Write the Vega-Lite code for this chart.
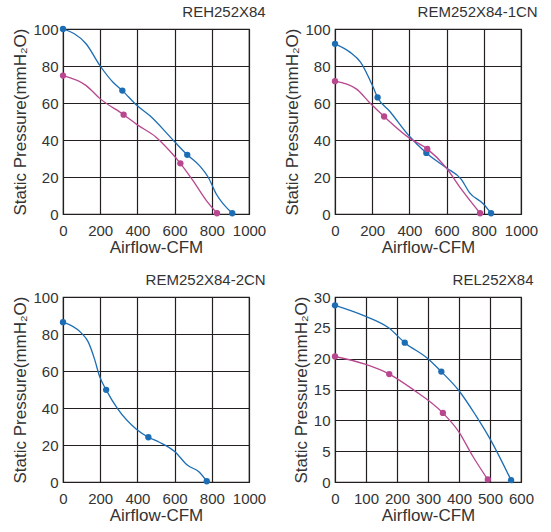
{
  "$schema": "https://vega.github.io/schema/vega-lite/v6.json",
  "padding": {"left": 11, "top": 4, "right": 2, "bottom": 0},
  "columns": 2,
  "spacing": {"row": 16, "column": 16},
  "config": {
    "font": "Liberation Sans",
    "view": {"stroke": "#231f20", "strokeWidth": 1.2},
    "axis": {
      "grid": true, "gridColor": "#231f20", "gridOpacity": 1, "gridWidth": 1.2,
      "domain": false, "ticks": false, "labelOverlap": false, "labelFlush": false, "format": "d",
      "labelFont": "Liberation Sans", "labelFontSize": 15, "labelColor": "#333333",
      "titleFont": "Liberation Sans", "titleFontSize": 17, "titleFontWeight": "normal", "titleColor": "#333333"
    },
    "axisX": {"labelPadding": 9, "titlePadding": 1},
    "axisY": {"labelPadding": 5, "titlePadding": 3},
    "title": {"anchor": "end", "fontSize": 15, "fontWeight": "normal", "color": "#333333", "font": "Liberation Sans", "offset": 2}
  },
  "datasets": {
    "p1": [
      {"flow": 0, "pressure": 100, "series": "a", "dot": true},
      {"flow": 125, "pressure": 91.9, "series": "a", "dot": false},
      {"flow": 200, "pressure": 80, "series": "a", "dot": false},
      {"flow": 269, "pressure": 71.2, "series": "a", "dot": false},
      {"flow": 319, "pressure": 66.7, "series": "a", "dot": true},
      {"flow": 398, "pressure": 58.6, "series": "a", "dot": false},
      {"flow": 466, "pressure": 53.2, "series": "a", "dot": false},
      {"flow": 595, "pressure": 39.6, "series": "a", "dot": false},
      {"flow": 668, "pressure": 32, "series": "a", "dot": true},
      {"flow": 735, "pressure": 26, "series": "a", "dot": false},
      {"flow": 780, "pressure": 20, "series": "a", "dot": false},
      {"flow": 824, "pressure": 10.8, "series": "a", "dot": false},
      {"flow": 910, "pressure": 0.4, "series": "a", "dot": true},
      {"flow": 0, "pressure": 74.8, "series": "b", "dot": true},
      {"flow": 125, "pressure": 69.4, "series": "b", "dot": false},
      {"flow": 197, "pressure": 62.5, "series": "b", "dot": false},
      {"flow": 326, "pressure": 53.7, "series": "b", "dot": true},
      {"flow": 398, "pressure": 48.3, "series": "b", "dot": false},
      {"flow": 502, "pressure": 41.4, "series": "b", "dot": false},
      {"flow": 573, "pressure": 34.2, "series": "b", "dot": false},
      {"flow": 631, "pressure": 27.4, "series": "b", "dot": true},
      {"flow": 699, "pressure": 18, "series": "b", "dot": false},
      {"flow": 771, "pressure": 7.2, "series": "b", "dot": false},
      {"flow": 828, "pressure": 0.4, "series": "b", "dot": true}
    ],
    "p2": [
      {"flow": 0, "pressure": 92, "series": "a", "dot": true},
      {"flow": 80, "pressure": 87.5, "series": "a", "dot": false},
      {"flow": 138, "pressure": 82, "series": "a", "dot": false},
      {"flow": 205, "pressure": 68.6, "series": "a", "dot": false},
      {"flow": 229, "pressure": 63, "series": "a", "dot": true},
      {"flow": 295, "pressure": 55.4, "series": "a", "dot": false},
      {"flow": 400, "pressure": 42, "series": "a", "dot": false},
      {"flow": 491, "pressure": 33, "series": "a", "dot": true},
      {"flow": 598, "pressure": 25, "series": "a", "dot": false},
      {"flow": 679, "pressure": 18.7, "series": "a", "dot": false},
      {"flow": 723, "pressure": 11.6, "series": "a", "dot": false},
      {"flow": 798, "pressure": 5.4, "series": "a", "dot": false},
      {"flow": 839, "pressure": 0.4, "series": "a", "dot": true},
      {"flow": 0, "pressure": 71.8, "series": "b", "dot": true},
      {"flow": 116, "pressure": 67.5, "series": "b", "dot": false},
      {"flow": 188, "pressure": 60, "series": "b", "dot": false},
      {"flow": 264, "pressure": 52.7, "series": "b", "dot": true},
      {"flow": 400, "pressure": 41, "series": "b", "dot": false},
      {"flow": 496, "pressure": 35.2, "series": "b", "dot": true},
      {"flow": 598, "pressure": 25, "series": "b", "dot": false},
      {"flow": 679, "pressure": 13.4, "series": "b", "dot": false},
      {"flow": 780, "pressure": 0.4, "series": "b", "dot": true}
    ],
    "p3": [
      {"flow": 0, "pressure": 86.4, "series": "a", "dot": true},
      {"flow": 98, "pressure": 80.6, "series": "a", "dot": false},
      {"flow": 134, "pressure": 76, "series": "a", "dot": false},
      {"flow": 170, "pressure": 66.3, "series": "a", "dot": false},
      {"flow": 196, "pressure": 57.3, "series": "a", "dot": false},
      {"flow": 232, "pressure": 49.8, "series": "a", "dot": true},
      {"flow": 295, "pressure": 39.4, "series": "a", "dot": false},
      {"flow": 393, "pressure": 28.7, "series": "a", "dot": false},
      {"flow": 459, "pressure": 24.2, "series": "a", "dot": true},
      {"flow": 518, "pressure": 21.5, "series": "a", "dot": false},
      {"flow": 600, "pressure": 16.5, "series": "a", "dot": false},
      {"flow": 670, "pressure": 9, "series": "a", "dot": false},
      {"flow": 732, "pressure": 5.4, "series": "a", "dot": false},
      {"flow": 773, "pressure": 0.4, "series": "a", "dot": true}
    ],
    "p4": [
      {"flow": 0, "pressure": 28.65, "series": "a", "dot": true},
      {"flow": 97, "pressure": 26.9, "series": "a", "dot": false},
      {"flow": 173, "pressure": 25, "series": "a", "dot": false},
      {"flow": 225, "pressure": 22.6, "series": "a", "dot": true},
      {"flow": 300, "pressure": 20, "series": "a", "dot": false},
      {"flow": 343, "pressure": 17.9, "series": "a", "dot": true},
      {"flow": 400, "pressure": 14.8, "series": "a", "dot": false},
      {"flow": 454, "pressure": 10.8, "series": "a", "dot": false},
      {"flow": 500, "pressure": 7, "series": "a", "dot": false},
      {"flow": 568, "pressure": 0.3, "series": "a", "dot": true},
      {"flow": 0, "pressure": 20.35, "series": "b", "dot": true},
      {"flow": 97, "pressure": 19.1, "series": "b", "dot": false},
      {"flow": 175, "pressure": 17.5, "series": "b", "dot": true},
      {"flow": 249, "pressure": 15.1, "series": "b", "dot": false},
      {"flow": 348, "pressure": 11.2, "series": "b", "dot": true},
      {"flow": 400, "pressure": 8.1, "series": "b", "dot": false},
      {"flow": 443, "pressure": 4.3, "series": "b", "dot": false},
      {"flow": 493, "pressure": 0.4, "series": "b", "dot": true}
    ]
  },
  "concat": [
    {
      "title": "REH252X84",
      "width": 186, "height": 185,
      "data": {"name": "p1"},
      "encoding": {
        "x": {"field": "flow", "type": "quantitative", "title": "Airflow-CFM", "scale": {"domain": [0, 1000], "nice": false}, "axis": {"values": [0, 200, 400, 600, 800, 1000]}},
        "y": {"field": "pressure", "type": "quantitative", "title": "Static Pressure(mmH₂O)", "scale": {"domain": [0, 100], "nice": false}, "axis": {"values": [0, 20, 40, 60, 80, 100]}},
        "color": {"field": "series", "type": "nominal", "scale": {"domain": ["a", "b"], "range": ["#1c6db4", "#b8478f"]}, "legend": null}
      },
      "layer": [
        {"mark": {"type": "line", "interpolate": "monotone", "strokeWidth": 1.3}},
        {"transform": [{"filter": "datum.dot"}], "mark": {"type": "circle", "size": 40, "opacity": 1}}
      ]
    },
    {
      "title": "REM252X84-1CN",
      "width": 186, "height": 185,
      "data": {"name": "p2"},
      "encoding": {
        "x": {"field": "flow", "type": "quantitative", "title": "Airflow-CFM", "scale": {"domain": [0, 1000], "nice": false}, "axis": {"values": [0, 200, 400, 600, 800, 1000]}},
        "y": {"field": "pressure", "type": "quantitative", "title": "Static Pressure(mmH₂O)", "scale": {"domain": [0, 100], "nice": false}, "axis": {"values": [0, 20, 40, 60, 80, 100]}},
        "color": {"field": "series", "type": "nominal", "scale": {"domain": ["a", "b"], "range": ["#1c6db4", "#b8478f"]}, "legend": null}
      },
      "layer": [
        {"mark": {"type": "line", "interpolate": "monotone", "strokeWidth": 1.3}},
        {"transform": [{"filter": "datum.dot"}], "mark": {"type": "circle", "size": 40, "opacity": 1}}
      ]
    },
    {
      "title": "REM252X84-2CN",
      "width": 186, "height": 185,
      "data": {"name": "p3"},
      "encoding": {
        "x": {"field": "flow", "type": "quantitative", "title": "Airflow-CFM", "scale": {"domain": [0, 1000], "nice": false}, "axis": {"values": [0, 200, 400, 600, 800, 1000]}},
        "y": {"field": "pressure", "type": "quantitative", "title": "Static Pressure(mmH₂O)", "scale": {"domain": [0, 100], "nice": false}, "axis": {"values": [0, 20, 40, 60, 80, 100]}},
        "color": {"field": "series", "type": "nominal", "scale": {"domain": ["a", "b"], "range": ["#1c6db4", "#b8478f"]}, "legend": null}
      },
      "layer": [
        {"mark": {"type": "line", "interpolate": "monotone", "strokeWidth": 1.3}},
        {"transform": [{"filter": "datum.dot"}], "mark": {"type": "circle", "size": 40, "opacity": 1}}
      ]
    },
    {
      "title": "REL252X84",
      "width": 186, "height": 185,
      "data": {"name": "p4"},
      "encoding": {
        "x": {"field": "flow", "type": "quantitative", "title": "Airflow-CFM", "scale": {"domain": [0, 600], "nice": false}, "axis": {"values": [0, 100, 200, 300, 400, 500, 600]}},
        "y": {"field": "pressure", "type": "quantitative", "title": "Static Pressure(mmH₂O)", "scale": {"domain": [0, 30], "nice": false}, "axis": {"values": [0, 5, 10, 15, 20, 25, 30]}},
        "color": {"field": "series", "type": "nominal", "scale": {"domain": ["a", "b"], "range": ["#1c6db4", "#b8478f"]}, "legend": null}
      },
      "layer": [
        {"mark": {"type": "line", "interpolate": "monotone", "strokeWidth": 1.3}},
        {"transform": [{"filter": "datum.dot"}], "mark": {"type": "circle", "size": 40, "opacity": 1}}
      ]
    }
  ]
}
